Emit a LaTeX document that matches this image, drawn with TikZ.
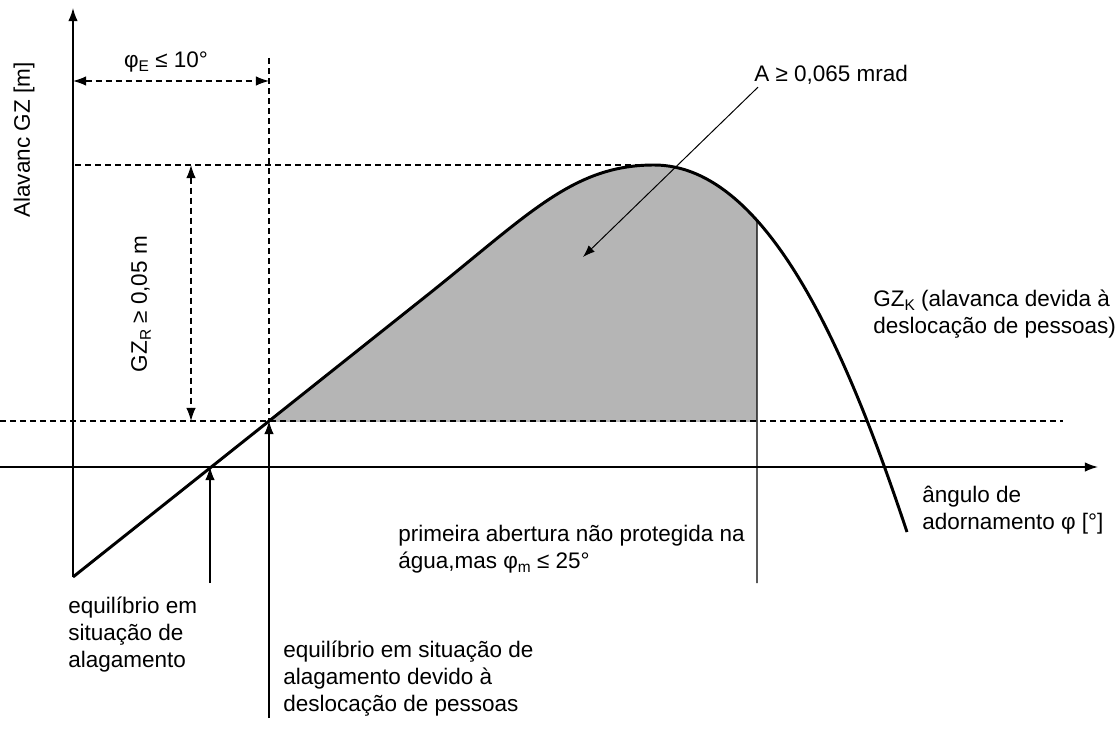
\documentclass[tikz,border=0pt]{standalone}
\usepackage{fontspec}
\setmainfont{Liberation Sans}
\usetikzlibrary{positioning,arrows.meta,intersections}
\newcommand{\lowidx}[1]{\raisebox{-0.35ex}{\fontsize{11}{11}\selectfont #1}}

\begin{document}
\begin{tikzpicture}[x=0.025cm, y=-0.025cm,
  axis/.style={line width=1.1pt, -{Latex[length=0.33cm,width=0.24cm]}},
  guide/.style={line width=0.9pt, dash pattern=on 0.15cm off 0.1cm},
  dimline/.style={guide, {Latex[length=0.33cm,width=0.24cm]}-{Latex[length=0.33cm,width=0.24cm]}},
  pointer/.style={line width=0.9pt, -{Latex[length=0.33cm,width=0.24cm]}},
  txt/.style={font=\fontsize{16}{19.2}\selectfont, inner sep=0pt, align=left}]
\useasboundingbox (0,0) rectangle (1120,736);

% Key points of the curve
\coordinate (start) at (73,577);
\coordinate (knee) at (430,293);
\coordinate (peak) at (654,165);
\coordinate (tail) at (907,532);
\coordinate (eq1) at (210,467);
\coordinate (eq2) at (269,421);

% Shaded area A
\begin{scope}
\clip (269,100) rectangle (757,421);
\fill[black!29] (start) -- (knee) .. controls (530,213) and (574,165) .. (peak)
  .. controls (770,165) and (850,361) .. (tail) -- cycle;
\end{scope}

% Axes
\coordinate (xend) at (1098,467);
\coordinate (xbeg) at (0,467);
\coordinate (yend) at (73,8);
\draw[axis] (xbeg) -- (xend);
\draw[axis] (start) -- (yend);

% Guide lines
\coordinate (lowleft) at (0,421);
\coordinate (lowright) at (1063,421);
\coordinate (topleft) at (75,165);
\coordinate (vtop) at (269,58);
\draw[guide] (lowleft) -- (lowright);
\draw[guide] (topleft) -- (peak);
\draw[guide] (vtop) -- (eq2);

% Dimensions
\coordinate (dimE1) at (73,81);
\coordinate (dimE2) at (269,81);
\coordinate (gzrtop) at (191,165);
\coordinate (gzrbot) at (191,421);
\draw[dimline] (dimE1) -- (dimE2);
\draw[dimline] (gzrtop) -- (gzrbot);
\node[txt] (phiE) at (166,62) {φ\lowidx{E} ≤ 10°};
\node[txt, rotate=90] (gzr) at (141,304) {GZ\lowidx{R} ≥ 0,05 m};

% GZ curve
\draw[line width=2.1pt, name path=gzcurve] (start) -- (knee) .. controls (530,213) and (574,165) .. (peak)
  .. controls (770,165) and (850,361) .. (tail);

% First unprotected opening
\coordinate (openfoot) at (757,583);
\path[name path=vcut] (757,100) -- (openfoot);
\draw[line width=0.9pt, name intersections={of=gzcurve and vcut, by=edge}] (edge) -- (openfoot);

% Equilibrium arrows
\coordinate (eq1foot) at (210,583);
\coordinate (eq2foot) at (269,718);
\draw[pointer] (eq1foot) -- (eq1);
\draw[pointer] (eq2foot) -- (eq2);

% Area label
\node[txt, anchor=base west] (area) at (754,82) {A ≥ 0,065 mrad};
\coordinate (areatip) at (583,257);
\draw[line width=0.7pt, -{Latex[length=0.3cm,width=0.22cm]}] ([xshift=0.1cm, yshift=-0.05cm]area.south west) -- (areatip);

% Texts (base = last line)
\node[txt] (yname) at (24,140) [rotate=90] {Alavanc GZ [m]};
\node[txt, anchor=base west] (gzk) at (873,333) {GZ\lowidx{K} (alavanca devida à\\deslocação de pessoas)};
\node[txt, anchor=base west] (phi) at (922,529) {ângulo de\\adornamento φ [°]};
\node[txt, anchor=base west] (opening) at (398,568) {primeira abertura não protegida na\\água,mas φ\lowidx{m} ≤ 25°};
\node[txt, anchor=base west] (eqflood) at (68,667) {equilíbrio em\\situação de\\alagamento};
\node[txt, anchor=base west] (eqcrowd) at (283,711) {equilíbrio em situação de\\alagamento devido à\\deslocação de pessoas};
\end{tikzpicture}
\end{document}
